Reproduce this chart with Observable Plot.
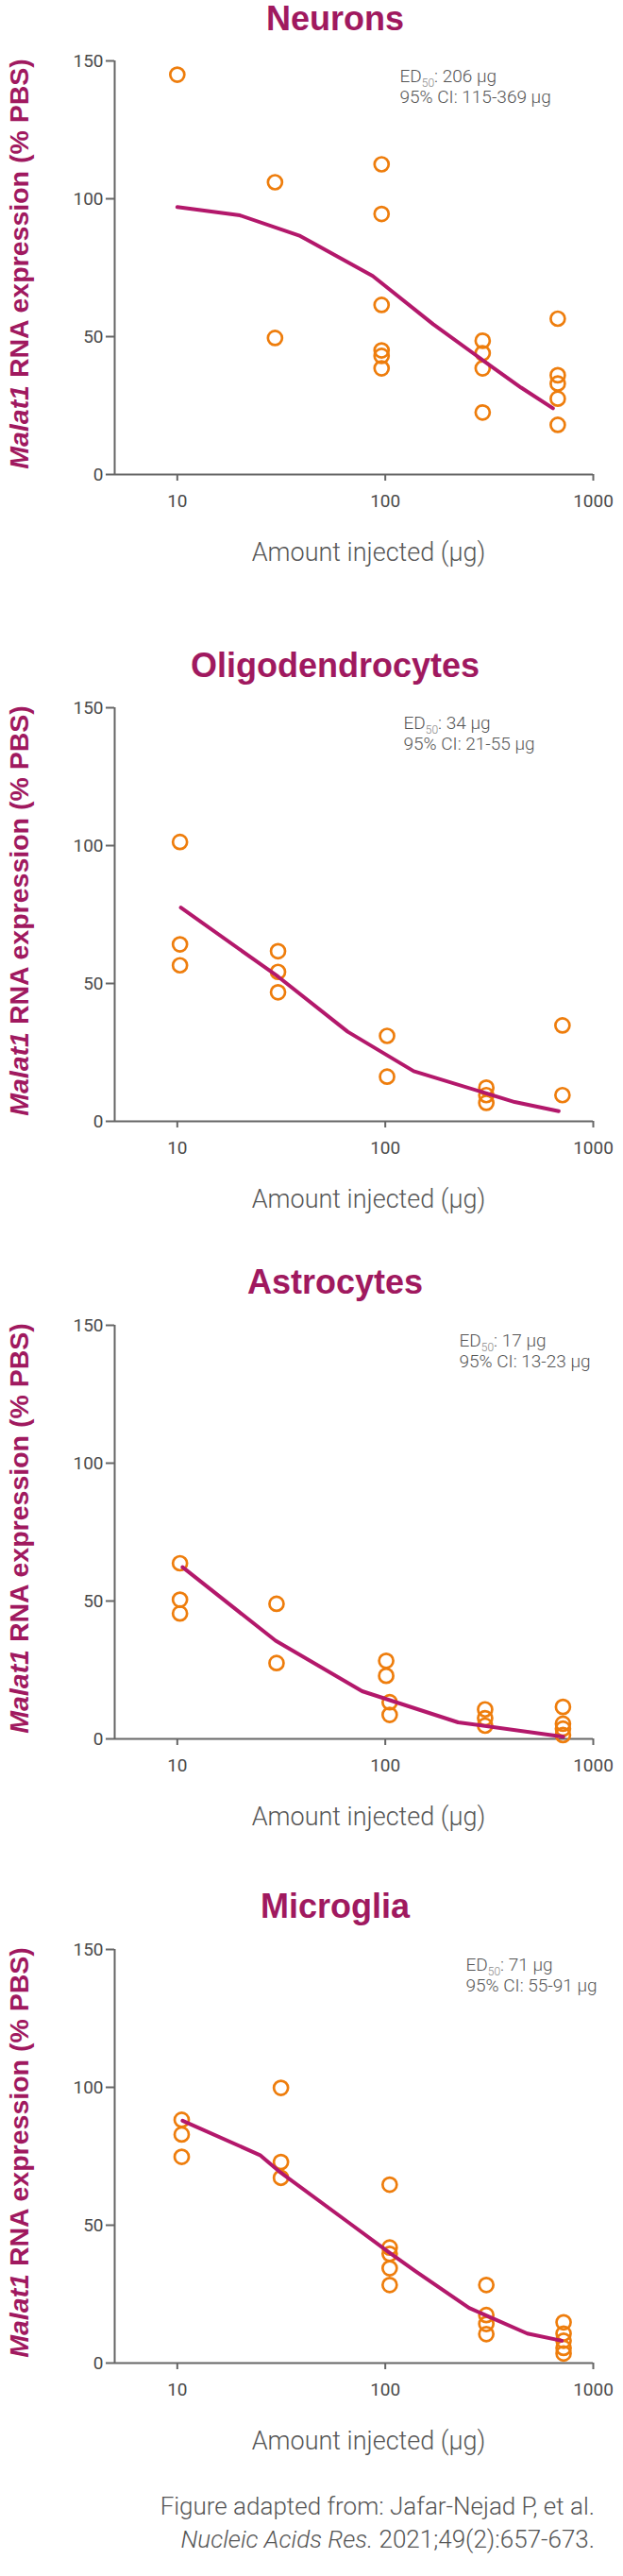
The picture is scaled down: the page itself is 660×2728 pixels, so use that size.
<!DOCTYPE html>
<html><head><meta charset="utf-8">
<script src="https://cdn.jsdelivr.net/npm/d3@7"></script>
<script src="https://cdn.jsdelivr.net/npm/@observablehq/plot@0.6"></script>
<style>
body{margin:0;background:#fff;}
#wrap{position:relative;width:660px;height:2728px;overflow:hidden;background:#fff;}
.title{position:absolute;left:355px;transform:translateX(-50%);white-space:nowrap;font-family:"Liberation Sans",Arial,sans-serif;font-weight:bold;font-size:36px;line-height:40px;color:#a0195f;}
.cap{position:absolute;right:30px;font-family:Roboto,sans-serif;font-weight:300;font-size:26px;line-height:35px;color:#555;text-align:right;white-space:nowrap;}
</style></head><body><div id="wrap"></div><script>
const panelTitles = ["Neurons", "Oligodendrocytes", "Astrocytes", "Microglia"];
const ed50Labels = ["206 µg", "34 µg", "17 µg", "71 µg"];
const ciLabels = ["115-369 µg", "21-55 µg", "13-23 µg", "55-91 µg"];
const xTicks = [10, 100, 1000];
const yTicks = [0, 50, 100, 150];
const yLabel = "Malat1 RNA expression (% PBS)";
const xLabel = "Amount injected (µg)";

const neuronsDose = [10, 29.5, 29.5, 96, 96, 96, 96, 96, 96, 294, 294, 294, 294, 675, 675, 675, 675, 675];
const neuronsPct  = [145, 106, 49.5, 112.5, 94.5, 61.5, 45, 43, 38.5, 48.5, 44, 38.5, 22.5, 56.5, 36, 33, 27.5, 18];
const neuronsFitDose = [10, 20, 39, 87, 170, 300, 450, 640];
const neuronsFitPct  = [97, 94, 86.5, 72, 54.5, 41, 31.5, 24];

const oligoDose = [10.3, 10.3, 10.3, 30.5, 30.5, 30.5, 102, 102, 306, 306, 306, 711, 711];
const oligoPct  = [101.3, 64.2, 56.6, 61.7, 54.2, 46.8, 31, 16.2, 12.2, 9.5, 6.7, 34.8, 9.5];
const oligoFitDose = [10.4, 30.5, 66, 137, 419, 682];
const oligoFitPct  = [77.5, 52.5, 32.5, 18.2, 7, 3.7];

const astroDose = [10.3, 10.3, 10.3, 30, 30, 101, 101, 105, 105, 302, 302, 302, 715, 715, 715, 715];
const astroPct  = [63.7, 50.5, 45.5, 49, 27.5, 28.3, 22.9, 13.3, 8.7, 10.7, 7.5, 4.8, 11.6, 5.5, 3.7, 1.4];
const astroFitDose = [10.6, 29.7, 77.4, 224, 718];
const astroFitPct  = [62.3, 35.6, 17.3, 6, 0.8];

const microDose = [10.5, 10.5, 10.5, 31.5, 31.5, 31.5, 105, 105, 105, 105, 105, 306, 306, 306, 306, 720, 720, 720, 720, 720];
const microPct  = [88.2, 82.9, 74.8, 99.8, 72.9, 67.2, 64.7, 41.9, 39.6, 34.4, 28.3, 28.3, 17.4, 14.2, 10.5, 14.8, 10.7, 8.1, 5.5, 3.5];
const microFitDose = [10.6, 25, 30.8, 66, 104, 140, 253, 482, 706];
const microFitPct  = [87.9, 75.4, 69.6, 51.2, 40.2, 33.3, 20, 10.7, 8.1];

const doses = [neuronsDose, oligoDose, astroDose, microDose];
const pcts = [neuronsPct, oligoPct, astroPct, microPct];
const fitDoses = [neuronsFitDose, oligoFitDose, astroFitDose, microFitDose];
const fitPcts = [neuronsFitPct, oligoFitPct, astroFitPct, microFitPct];

// layout
const y150 = [64, 749, 1403, 2064];
const titleTop = [0.4, 685.4, 1338.4, 1999.4];
const annotDx = [302, 306, 365, 372];
const MT = 30, MB = 120, PH = 438;

const wrap = document.getElementById("wrap");

for (let i = 0; i < 4; i++) {
  const t = document.createElement("div");
  t.className = "title";
  t.style.top = titleTop[i] + "px";
  t.textContent = panelTitles[i];
  wrap.appendChild(t);

  const pts = doses[i].map((d, j) => ({dose: d, pct: pcts[i][j]}));
  const fit = fitDoses[i].map((d, j) => ({dose: d, pct: fitPcts[i][j]}));
  const edText = "ED50: " + ed50Labels[i];
  const svg = Plot.plot({
    width: 660, height: MT + PH + MB,
    marginTop: MT, marginBottom: MB, marginLeft: 121, marginRight: 32,
    style: {fontFamily: "Roboto, sans-serif", color: "#555", background: "transparent", overflow: "visible"},
    x: {type: "log", domain: [5, 1000]},
    y: {domain: [0, 150]},
    marks: [
      Plot.axisX({ticks: xTicks, tickFormat: d => String(d), tickSize: 7, tickPadding: 14, fontSize: 19, stroke: "#666", strokeWidth: 2, fill: "#4a4a4a", label: null}),
      Plot.axisY({ticks: yTicks, tickSize: 9, tickPadding: 3, fontSize: 19, stroke: "#666", strokeWidth: 2, fill: "#4a4a4a", label: null}),
      Plot.ruleY([0], {stroke: "#666", strokeWidth: 2}),
      Plot.ruleX([5], {stroke: "#666", strokeWidth: 2}),
      Plot.dot(pts, {x: "dose", y: "pct", r: 7.5, stroke: "#ee7d0c", strokeWidth: 2.7, fill: "none"}),
      Plot.line(fit, {x: "dose", y: "pct", stroke: "#b3186b", strokeWidth: 4}),
      Plot.text([yLabel], {text: d => d, frameAnchor: "left", dx: -101, dy: -4, rotate: -90, textAnchor: "middle", lineAnchor: "middle", fontSize: 28.5, fontWeight: "bold", fontFamily: "Liberation Sans, Arial, sans-serif", fill: "#a0195f"}),
      Plot.text([xLabel], {text: d => d, frameAnchor: "bottom", dx: 15.5, dy: 91, lineAnchor: "bottom", fontSize: 27, fontWeight: 300, fill: "#555"}),
      Plot.text([edText], {text: d => d, frameAnchor: "top-left", dx: annotDx[i], dy: 22, lineAnchor: "bottom", textAnchor: "start", fontSize: 19, fontWeight: 300, fill: "#555"}),
      Plot.text(["95% CI: " + ciLabels[i]], {text: d => d, frameAnchor: "top-left", dx: annotDx[i], dy: 44, lineAnchor: "bottom", textAnchor: "start", fontSize: 19, fontWeight: 300, fill: "#555"})
    ]
  });
  svg.style.position = "absolute";
  svg.style.left = "0px";
  svg.style.top = (y150[i] - MT) + "px";

  d3.select(svg).selectAll("text").each(function () {
    const s = d3.select(this);
    const c = this.textContent;
    if (c === yLabel) {
      s.text(null);
      s.append("tspan").attr("font-style", "italic").text("Malat1");
      s.append("tspan").text(" RNA expression (% PBS)");
    } else if (c === edText) {
      s.text(null);
      s.append("tspan").text("ED");
      s.append("tspan").attr("font-size", 12).attr("dy", 5).attr("fill", "#888").text("50");
      s.append("tspan").attr("dy", -5).text(": " + ed50Labels[i]);
    }
  });
  wrap.appendChild(svg);
}

const cap = document.createElement("div");
cap.className = "cap";
cap.style.top = "2637px";
cap.innerHTML = "Figure adapted from: Jafar-Nejad P, et al.<br><i>Nucleic Acids Res.</i> 2021;49(2):657-673.";
wrap.appendChild(cap);
</script></body></html>
